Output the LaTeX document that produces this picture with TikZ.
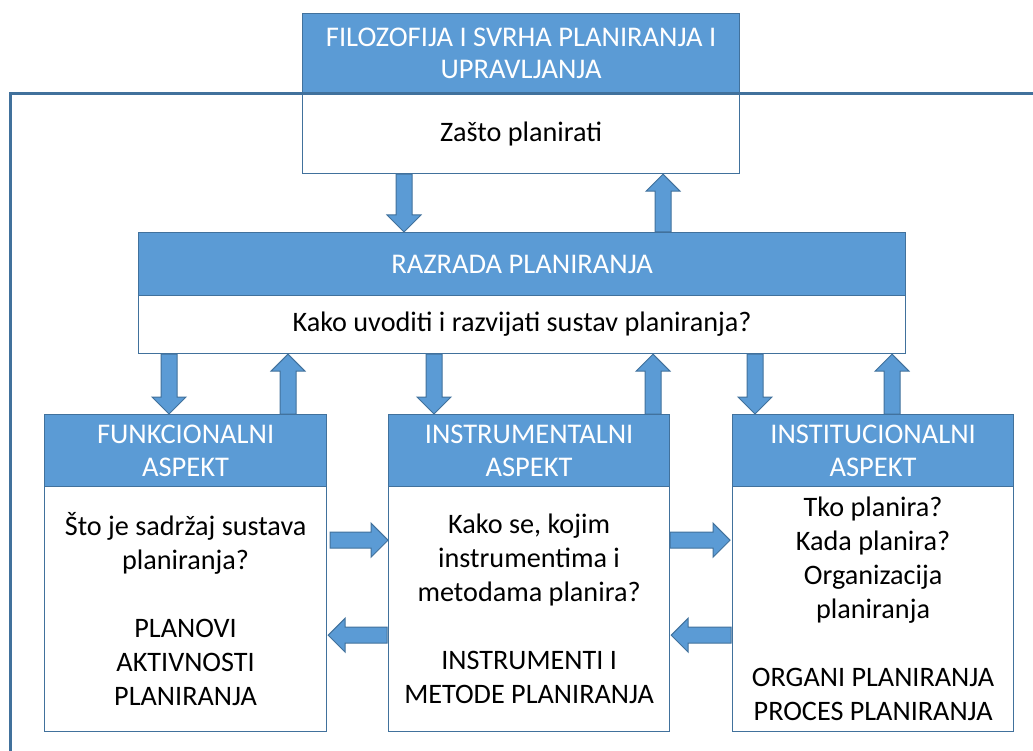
\documentclass[tikz,border=0pt]{standalone}
\usepackage{fontspec}
\setmainfont{Carlito}
\usetikzlibrary{calc}
\definecolor{hdrblue}{HTML}{5B9BD5}
\definecolor{edgeblue}{HTML}{41719C}
\tikzset{
  boxbase/.style={draw=edgeblue, line width=1.2pt, inner sep=0pt, anchor=north west, align=center},
  hdrbox/.style={boxbase, fill=hdrblue, text=white, font=\fontsize{28.5}{32.5}\selectfont},
  bodybox/.style={boxbase, fill=white, text=black, font=\fontsize{28.2}{34}\selectfont},
  blockarrow/.style={draw=edgeblue, line width=1pt, fill=hdrblue},
  framestyle/.style={draw=edgeblue, line width=3pt}
}
\newcommand\barrow[2]{%
  \coordinate (hb) at ($(#2)!17pt!(#1)$);
  \draw[blockarrow] ($(#1)!8pt!90:(#2)$) -- ($(hb)!8pt!-90:(#1)$) -- ($(hb)!17pt!-90:(#1)$)
    -- (#2) -- ($(hb)!17pt!90:(#1)$) -- ($(hb)!8pt!90:(#1)$) -- ($(#1)!8pt!-90:(#2)$) -- cycle;}
\begin{document}
\begin{tikzpicture}[x=1pt,y=-1pt]
\useasboundingbox (0,0) rectangle (1033,751);
% top box
\node[hdrbox, minimum width=437pt, minimum height=80pt] (toph) at (302,13) {FILOZOFIJA I SVRHA PLANIRANJA I\\UPRAVLJANJA};
\node[bodybox, minimum width=437pt, minimum height=80pt] (topb) at (302,93) {Zašto planirati};
% middle box
\node[hdrbox, minimum width=767pt, minimum height=63pt] (midh) at (138,232) {RAZRADA PLANIRANJA};
\node[bodybox, minimum width=767pt, minimum height=58pt] (midb) at (138,295) {Kako uvoditi i razvijati sustav planiranja?};
% bottom boxes
\node[hdrbox, minimum width=282pt, minimum height=72pt] (lh) at (44,414) {FUNKCIONALNI\\ASPEKT};
\node[bodybox, minimum width=282pt, minimum height=245pt] (lb) at (44,486) {Što je sadržaj sustava\\planiranja?\\[34pt]PLANOVI\\AKTIVNOSTI\\PLANIRANJA};
\node[hdrbox, minimum width=281pt, minimum height=72pt] (mh) at (388,414) {INSTRUMENTALNI\\ASPEKT};
\node[bodybox, minimum width=281pt, minimum height=245pt] (mb) at (388,486) {Kako se, kojim\\instrumentima i\\metodama planira?\\[34pt]INSTRUMENTI I\\METODE PLANIRANJA};
\node[hdrbox, minimum width=281pt, minimum height=72pt] (rh) at (732,414) {INSTITUCIONALNI\\ASPEKT};
\node[bodybox, minimum width=281pt, minimum height=245pt] (rb) at (732,486) {Tko planira?\\Kada planira?\\Organizacija\\planiranja\\[34pt]ORGANI PLANIRANJA\\PROCES PLANIRANJA};
% frame
\coordinate (fa) at (10,751);
\coordinate (fb) at (10,94);
\coordinate (fc) at (1033,94);
\draw[framestyle] (fa) -- (fb) -- (fc);
% vertical arrows
\barrow{$(topb.south west)+(102,0)$}{$(midh.north west)+(266,0)$}
\barrow{$(midh.north west)+(525,0)$}{$(topb.south west)+(361,0)$}
\barrow{$(midb.south west)+(31,0)$}{$(lh.north west)+(125,0)$}
\barrow{$(lh.north west)+(244,0)$}{$(midb.south west)+(150,0)$}
\barrow{$(midb.south west)+(296,0)$}{$(mh.north west)+(46,0)$}
\barrow{$(mh.north west)+(265,0)$}{$(midb.south west)+(515,0)$}
\barrow{$(midb.south west)+(617,0)$}{$(rh.north west)+(23,0)$}
\barrow{$(rh.north west)+(160,0)$}{$(midb.south west)+(754,0)$}
% horizontal arrows
\barrow{$(lb.south east)+(3,-192)$}{$(mb.south west)+(0,-192)$}
\barrow{$(mb.south west)+(-1,-97)$}{$(lb.south east)+(1,-97)$}
\barrow{$(mb.south east)+(0,-192)$}{$(rb.south west)+(-2,-192)$}
\barrow{$(rb.south west)+(-1,-97)$}{$(mb.south east)+(1,-97)$}
\end{tikzpicture}
\end{document}
